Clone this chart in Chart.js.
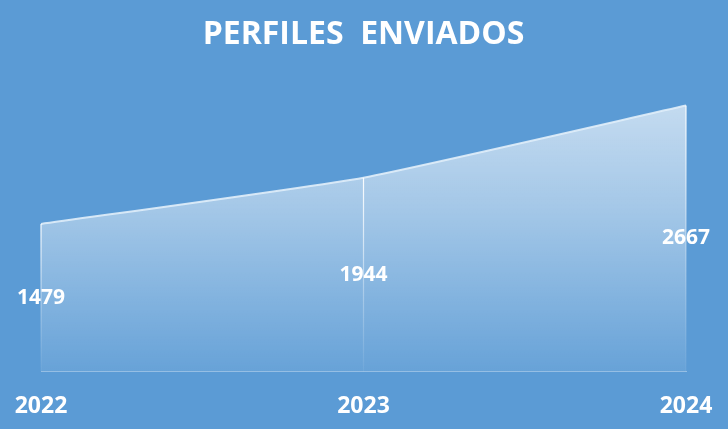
<!DOCTYPE html>
<html>
<head>
<meta charset="utf-8">
<script src="https://cdn.jsdelivr.net/npm/chart.js@4.4.0/dist/chart.umd.min.js"></script>
<style>
  html, body { margin: 0; padding: 0; background: #5B9BD5; }
  #wrap { width: 728px; height: 429px; position: relative; }
</style>
</head>
<body>
<div id="wrap"><canvas id="c"></canvas></div>
<script>
/* ── Datos ── */
const years = ['2022', '2023', '2024'];
const perfiles = [1479, 1944, 2667];
const chartTitle = 'PERFILES  ENVIADOS';

const FONT = "'Open Sans', 'Liberation Sans', sans-serif";

/* ── Líneas verticales desde cada punto ── */
const dropLines = {
  id: 'dropLines',
  afterDatasetsDraw(chart) {
    const { ctx, chartArea } = chart;
    const meta = chart.getDatasetMeta(0);
    ctx.save();
    meta.data.forEach((pt, i) => {
      const g = ctx.createLinearGradient(0, pt.y, 0, chartArea.bottom);
      g.addColorStop(0, 'rgba(255,255,255,0.95)');
      g.addColorStop(0.6, 'rgba(255,255,255,0.3)');
      g.addColorStop(1, 'rgba(255,255,255,0.05)');
      ctx.strokeStyle = g;
      ctx.lineWidth = 1.2;
      ctx.beginPath();
      ctx.moveTo(pt.x, pt.y);
      ctx.lineTo(pt.x, chartArea.bottom);
      ctx.stroke();
    });
    ctx.restore();
  }
};

/* ── Etiquetas a media altura ── */
const midLabels = {
  id: 'midLabels',
  afterDatasetsDraw(chart) {
    const { ctx } = chart;
    const y = chart.scales.y;
    const meta = chart.getDatasetMeta(0);
    ctx.save();
    ctx.font = 'bold 21px ' + FONT;
    ctx.fillStyle = '#ffffff';
    ctx.textAlign = 'center';
    ctx.textBaseline = 'middle';
    meta.data.forEach((pt, i) => {
      ctx.fillText(String(perfiles[i]), pt.x, y.getPixelForValue(perfiles[i] / 2));
    });
    ctx.restore();
  }
};

new Chart(document.getElementById('c'), {
  type: 'line',
  data: {
    labels: years,
    datasets: [{
      data: perfiles,
      fill: 'origin',
      tension: 0.15,
      borderColor: 'rgba(225,238,250,0.9)',
      borderWidth: 2,
      pointRadius: 0,
      backgroundColor: (c) => {
        const area = c.chart.chartArea;
        if (!area) return 'rgba(255,255,255,0.4)';
        const g = c.chart.ctx.createLinearGradient(0, area.top, 0, area.bottom);
        g.addColorStop(0, 'rgba(255,255,255,0.7)');
        g.addColorStop(0.45, 'rgba(255,255,255,0.45)');
        g.addColorStop(1, 'rgba(255,255,255,0.08)');
        return g;
      }
    }]
  },
  options: {
    responsive: true,
    maintainAspectRatio: false,
    animation: false,
    layout: { padding: { left: 41, right: 42, top: 0, bottom: -4 } },
    plugins: {
      legend: { display: false },
      tooltip: { enabled: false },
      title: {
        display: true,
        text: chartTitle,
        color: '#ffffff',
        font: { family: FONT, size: 32, weight: 'bold' },
        padding: { top: 16, bottom: 18 }
      }
    },
    scales: {
      x: {
        offset: false,
        grid: { display: false },
        border: { display: true, color: 'rgba(255,255,255,0.35)', width: 1 },
        ticks: {
          color: '#ffffff',
          font: { family: FONT, size: 23, weight: 'bold' },
          padding: 13,
          maxRotation: 0
        }
      },
      y: {
        display: false,
        min: 0,
        max: 3000
      }
    }
  },
  plugins: [dropLines, midLabels]
});
</script>
</body>
</html>
